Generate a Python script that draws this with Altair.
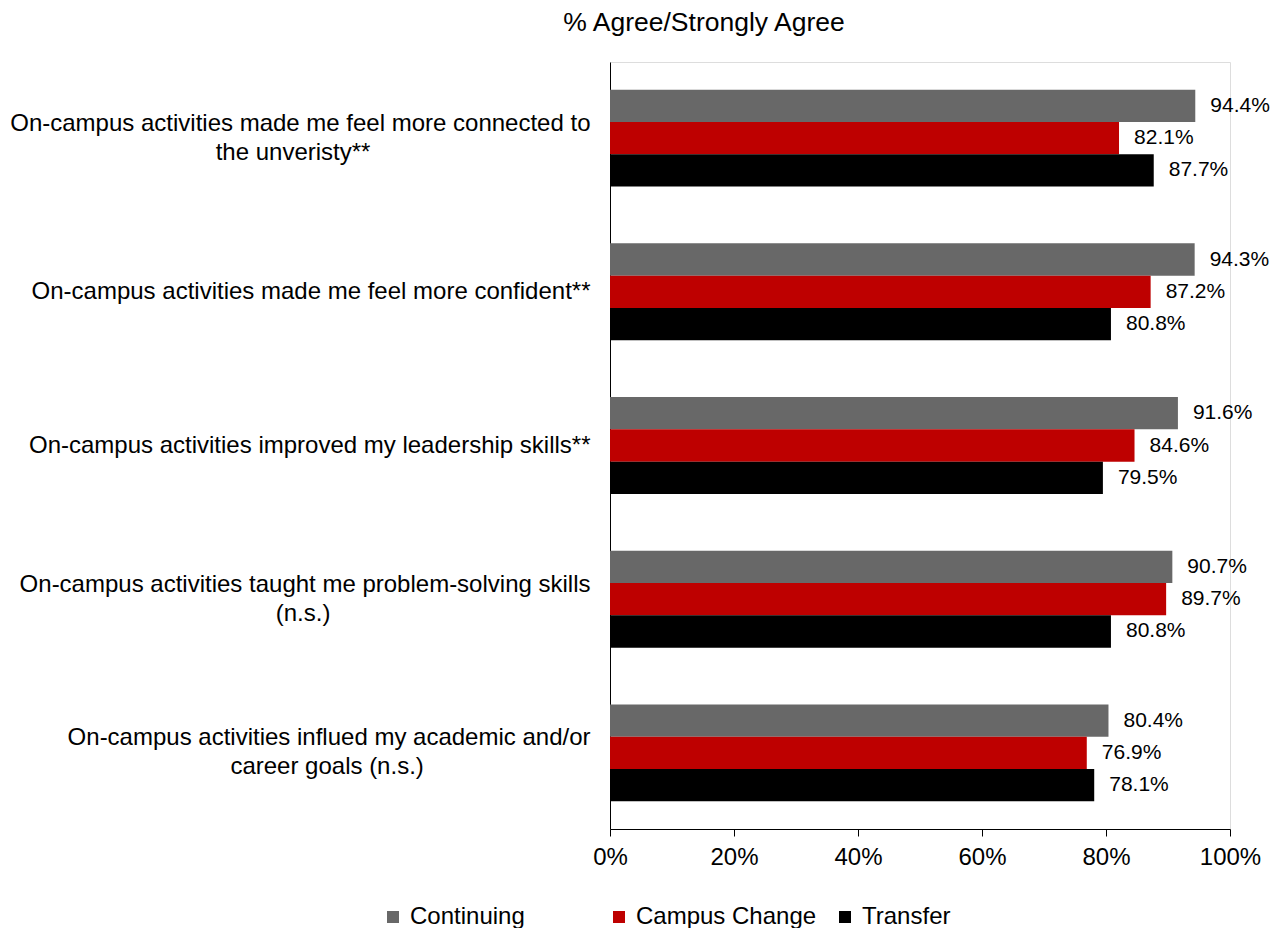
import altair as alt
import pandas as pd

NB = "\u00a0"
ZW = "\u200b"

categories = [
    "On-campus activities made me feel more connected to|the unveristy**" + NB * 33 + ZW,
    "On-campus activities made me feel more confident**",
    "On-campus activities improved my leadership skills**",
    "On-campus activities taught me problem-solving skills|(n.s.)" + NB * 39 + ZW,
    "On-campus activities influed my academic and/or|career goals (n.s.)" + NB * 25 + ZW,
]
series = ["Continuing", "Campus Change", "Transfer"]
continuing = [94.4, 94.3, 91.6, 90.7, 80.4]
campus_change = [82.1, 87.2, 84.6, 89.7, 76.9]
transfer = [87.7, 80.8, 79.5, 80.8, 78.1]
colors = ["#686868", "#BE0000", "#000000"]
tick_values = [0, 0.2, 0.4, 0.6, 0.8, 1.0]

rows = []
for s, vals in zip(series, [continuing, campus_change, transfer]):
    for c, v in zip(categories, vals):
        rows.append({"category": c, "series": s, "value": v / 100})
df = pd.DataFrame(rows)

FONT = "Liberation Sans"

y_enc = alt.Y(
    "category:N",
    sort=categories,
    scale=alt.Scale(paddingInner=0.37, paddingOuter=0.18),
    axis=alt.Axis(
        title=None,
        labelExpr="split(datum.label, '|')",
        labelFont=FONT,
        labelFontSize=24,
        labelColor="#000000",
        labelAlign="right",
        labelBaseline="middle",
        labelPadding=20,
        labelLimit=0,
        labelLineHeight=29,
        labelOffset={"condition": {"test": "indexof(datum.value, '|') >= 0", "value": -14.5}, "value": 0},
        ticks=False,
        domain=True,
        domainColor="#000000",
        domainWidth=1,
        grid=False,
    ),
)
yoff_enc = alt.YOffset("series:N", sort=series, scale=alt.Scale(domain=series, paddingInner=0, paddingOuter=0))
x_enc = alt.X(
    "value:Q",
    scale=alt.Scale(domain=[0, 1], nice=False),
    axis=alt.Axis(
        title=None,
        values=tick_values,
        format=".0%",
        labelFont=FONT,
        labelFontSize=24,
        labelColor="#000000",
        labelPadding=9,
        labelFlush=False,
        ticks=True,
        tickSize=7,
        tickColor="#000000",
        domainColor="#000000",
        domainWidth=1,
        grid=False,
    ),
)

base = alt.Chart(df)

bars = base.mark_bar(cornerRadius=0).encode(
    y=y_enc,
    yOffset=yoff_enc,
    x=x_enc,
    color=alt.Color(
        "series:N",
        sort=series,
        scale=alt.Scale(domain=series, range=colors),
        legend=alt.Legend(
            title=None,
            orient="none",
            legendX=-229,
            legendY=843,
            padding=0,
            direction="horizontal",
            symbolType="square",
            symbolSize=144,
            symbolStrokeWidth=0,
            symbolOpacity=1,
            labelFont=FONT,
            labelFontSize=24,
            labelColor="#000000",
            labelOffset=5,
            labelLimit=400,
            columnPadding=16,
            gridAlign="all",
        ),
    ),
)

labels = base.mark_text(align="left", baseline="middle", dx=15, font=FONT, fontSize=21, color="#000000").encode(
    y=alt.Y("category:N", sort=categories),
    yOffset=alt.YOffset("series:N", sort=series),
    x=alt.X("value:Q"),
    text=alt.Text("value:Q", format=".1%"),
)

chart = (
    alt.layer(bars, labels)
    .properties(
        width=620,
        height=767,
        padding={"left": 602, "top": 54, "right": 43, "bottom": 99},
        autosize=alt.AutoSizeParams(type="none"),
        title=alt.TitleParams(
            text="% Agree/Strongly Agree",
            font=FONT,
            fontSize=26.5,
            fontWeight="normal",
            color="#000000",
            anchor="middle",
            dx=-216,
            offset=26,
        ),
    )
    .configure_view(stroke=None)
    .configure(background="#ffffff")
)

chart.save("out.html", embed_options={"renderer": "svg", "actions": False})
